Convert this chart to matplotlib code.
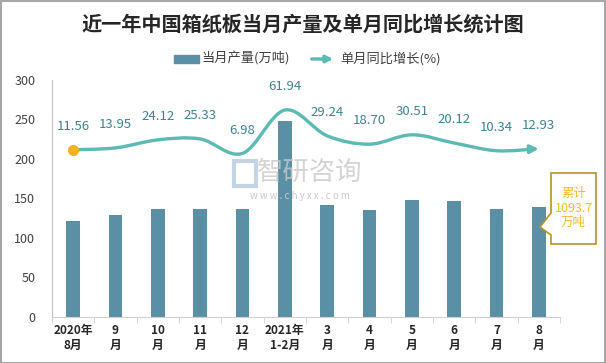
import numpy as np
import matplotlib
matplotlib.use('Agg')
from matplotlib import pyplot as plt
from matplotlib.path import Path
from matplotlib.patches import FancyArrowPatch, Rectangle, Polygon

plt.rcParams['font.family'] = ['Noto Sans CJK SC', 'DejaVu Sans']

# data
months = ['2020年\n8月', '9\n月', '10\n月', '11\n月', '12\n月', '2021年\n1-2月',
          '3\n月', '4\n月', '5\n月', '6\n月', '7\n月', '8\n月']
output = [121.0, 128.7, 136.3, 136.3, 136.3, 247.5, 141.5, 135.0, 148.0, 146.5, 136.5, 138.7]
growth = [11.56, 13.95, 24.12, 25.33, 6.98, 61.94, 29.24, 18.70, 30.51, 20.12, 10.34, 12.93]
total_label = '累计\n1093.7\n万吨'

bar_color = '#5b8fa6'
line_color = '#5bbab1'
label_color = '#3d8290'

fig = plt.figure(figsize=(6.06, 3.63), dpi=100)
ax = fig.add_axes([52 / 606, 1 - 316.7 / 363, 508 / 606, 236.7 / 363])
x = np.arange(len(months))

ax.bar(x, output, width=0.33, color=bar_color, zorder=2)
ax.set_xlim(-0.5, len(months) - 0.5)
ax.set_ylim(0, 300)
ax.set_yticks(range(0, 301, 50))
ax.tick_params(axis='y', length=0, pad=12, labelsize=9, labelcolor='#404040')
ax.set_xticks(x)
ax.set_xticklabels(months, fontsize=8.5, fontweight='bold', color='#262626', linespacing=1.25)
ax.tick_params(axis='x', length=0, pad=5)
# category boundary tick marks
ax.set_xticks(np.arange(-0.5, len(months), 1), minor=True)
ax.tick_params(axis='x', which='minor', length=4, color='#d0d0d0', direction='out')
for s in ['top', 'right']:
    ax.spines[s].set_visible(False)
ax.spines['left'].set_color('#bfbfbf')
ax.spines['bottom'].set_color('#d0d0d0')

# secondary (hidden) axis for the growth line
ax2 = ax.twinx()
ax2.set_ylim(-200, 100)
ax2.axis('off')

# smooth curve through points (catmull-rom -> bezier)
pts = np.column_stack([x, growth]).astype(float)
verts = [tuple(pts[0])]
codes = [Path.MOVETO]
for i in range(len(pts) - 1):
    p0 = pts[i - 1] if i > 0 else pts[i]
    p1 = pts[i]
    p2 = pts[i + 1]
    p3 = pts[i + 2] if i + 2 < len(pts) else pts[i + 1]
    c1 = p1 + (p2 - p0) / 6
    c2 = p2 - (p3 - p1) / 6
    verts += [tuple(c1), tuple(c2), tuple(p2)]
    codes += [Path.CURVE4] * 3
arrow = FancyArrowPatch(path=Path(verts, codes), arrowstyle='-|>', mutation_scale=12,
                        color=line_color, lw=2.4, zorder=3, shrinkA=0, shrinkB=0)
ax2.add_patch(arrow)
ax2.plot(x[0], growth[0], 'o', color='#f5b120', ms=7, zorder=4)
for xi, g in zip(x, growth):
    ax2.annotate('%.2f' % g, (xi, g), xytext=(0, 12), textcoords='offset points',
                 ha='center', va='bottom', fontsize=9.5, color=label_color)

# watermark
fig.text(310 / 606, 1 - 172 / 363, '智研咨询', fontsize=19, color='#c9c9c9', ha='center', va='center', alpha=0.8)
fig.text(300 / 606, 1 - 196 / 363, 'w w w . c h y x x . c o m', fontsize=7, color='#c9c9c9', ha='center', va='center')
fig.patches.append(Rectangle((234 / 606, 1 - 186 / 363), 22 / 606, 25 / 363, transform=fig.transFigure,
                             fill=False, ec='#c5d3e3', lw=3))

# cumulative callout
box_l, box_r, box_t, box_b = 551 / 606, 596 / 606, 1 - 173 / 363, 1 - 244 / 363
tip_y = 1 - 227 / 363
callout = Polygon([(box_l, box_t), (box_r, box_t), (box_r, box_b), (box_l, box_b),
                   (box_l, tip_y - 8 / 363), (540 / 606, tip_y), (box_l, tip_y + 14 / 363)],
                  closed=True, transform=fig.transFigure, fc='white', ec='#b8912a', lw=1.2, zorder=5)
fig.patches.append(callout)
fig.text((box_l + box_r) / 2, 1 - 208 / 363, total_label, ha='center', va='center', fontsize=9,
         color='#f5b93a', linespacing=1.15, zorder=6)

# title
fig.text(0.5, 1 - 24 / 363, '近一年中国箱纸板当月产量及单月同比增长统计图', ha='center', va='center',
         fontsize=14.5, fontweight='bold', color='#262626')

# legend
ly = 1 - 59 / 363
fig.patches.append(Rectangle((174 / 606, ly - 4 / 363), 25 / 606, 8 / 363, transform=fig.transFigure,
                             color=bar_color))
fig.text(201 / 606, ly, '当月产量(万吨)', fontsize=9.5, va='center', color='#404040')
fig.patches.append(FancyArrowPatch((309 / 606, ly), (336 / 606, ly), transform=fig.transFigure,
                                   arrowstyle='-|>', mutation_scale=10, color=line_color, lw=2.4))
fig.text(340 / 606, ly, '单月同比增长(%)', fontsize=9.5, va='center', color='#404040')

# figure border
fig.patches.append(Rectangle((0.5 / 606, 0.5 / 363), 604.5 / 606, 361.5 / 363, transform=fig.transFigure,
                             fill=False, ec='#a6a6a6', lw=1.5))

fig.savefig('out.png', dpi=100)
